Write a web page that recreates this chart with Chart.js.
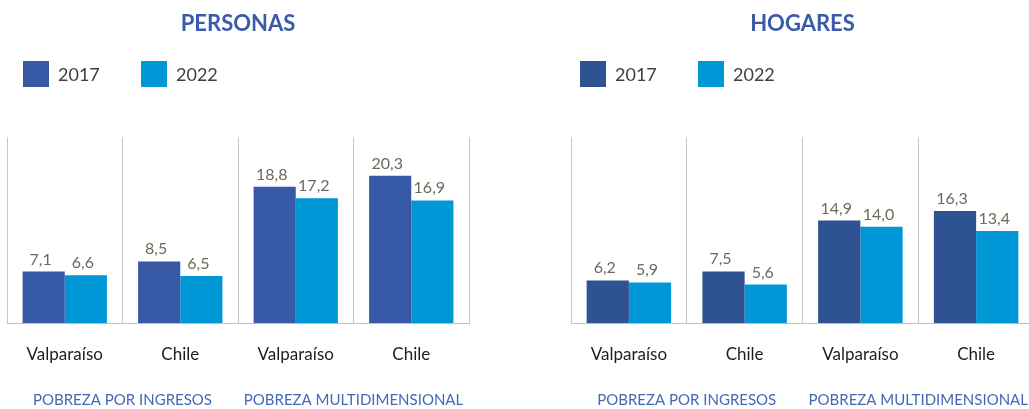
<!DOCTYPE html>
<html>
<head>
<meta charset="utf-8">
<script src="https://cdn.jsdelivr.net/npm/chart.js@4.4.1/dist/chart.umd.min.js"></script>
<style>
  html, body { margin: 0; padding: 0; background: #ffffff; }
  body { width: 1029px; height: 409px; overflow: hidden; position: relative; }
  .wrap { position: absolute; top: 0; height: 409px; }
  #w1 { left: 0; width: 476px; }
  #w2 { left: 564px; width: 477px; }
  canvas { display: block; }
</style>
</head>
<body>
<div class="wrap" id="w1"><canvas id="c1"></canvas></div>
<div class="wrap" id="w2"><canvas id="c2"></canvas></div>
<script>
// ---- data ----
const categories = ['Valparaíso', 'Chile', 'Valparaíso', 'Chile'];
const groupLabels = ['POBREZA POR INGRESOS', 'POBREZA MULTIDIMENSIONAL'];
const seriesNames = ['2017', '2022'];
const personas2017 = [7.1, 8.5, 18.8, 20.3];
const personas2022 = [6.6, 6.5, 17.2, 16.9];
const hogares2017 = [6.2, 7.5, 14.9, 16.3];
const hogares2022 = [5.9, 5.6, 14.0, 13.4];
const chartTitles = ['PERSONAS', 'HOGARES'];

// ---- plugins ----
const valueLabels = {
  id: 'valueLabels',
  afterDatasetsDraw(chart) {
    const ctx = chart.ctx;
    ctx.save();
    ctx.font = '16px Lato, "Open Sans", sans-serif';
    ctx.fillStyle = '#6b6b5b';
    ctx.textAlign = 'center';
    ctx.textBaseline = 'alphabetic';
    chart.data.datasets.forEach((ds, i) => {
      chart.getDatasetMeta(i).data.forEach((bar, j) => {
        const txt = ds.data[j].toFixed(1).replace('.', ',');
        ctx.fillText(txt, bar.x - 3, bar.y - 7);
      });
    });
    ctx.restore();
  }
};

const boxLegend = {
  id: 'boxLegend',
  afterDraw(chart, args, opts) {
    const ctx = chart.ctx;
    ctx.save();
    ctx.font = '18px Lato, "Open Sans", sans-serif';
    ctx.textBaseline = 'middle';
    ctx.textAlign = 'left';
    chart.data.datasets.forEach((ds, i) => {
      const x = chart.chartArea.left + opts.offset + i * opts.step;
      ctx.fillStyle = ds.backgroundColor;
      ctx.fillRect(x, opts.y, opts.box, opts.box);
      ctx.fillStyle = '#3f3f3f';
      ctx.fillText(ds.label, x + opts.box + 9, opts.y + opts.box / 2 + 1);
    });
    ctx.restore();
  }
};

function fixAxis(h) {
  return function (scale) {
    scale.height = h;
    scale.paddingLeft = 0;
    scale.paddingRight = 0;
    scale.paddingTop = 0;
    scale.paddingBottom = 0;
  };
}

function makeChart(id, title, d17, d22, c17, yMax, legendOffset) {
  return new Chart(document.getElementById(id), {
    type: 'bar',
    data: {
      labels: categories,
      datasets: [
        { label: seriesNames[0], data: d17, backgroundColor: c17, categoryPercentage: 0.73, barPercentage: 1.0 },
        { label: seriesNames[1], data: d22, backgroundColor: '#0097d7', categoryPercentage: 0.73, barPercentage: 1.0 }
      ]
    },
    options: {
      responsive: true,
      maintainAspectRatio: false,
      animation: false,
      devicePixelRatio: 1,
      layout: { padding: { left: 7, right: 7, top: 0, bottom: 0 } },
      plugins: {
        legend: { display: false },
        tooltip: { enabled: false },
        title: {
          display: true,
          text: title,
          color: '#3a5ba9',
          font: { family: 'Lato, "Open Sans", sans-serif', size: 22, weight: 'bold' },
          padding: { top: 11, bottom: 100 }
        },
        boxLegend: { offset: legendOffset, step: 118, y: 61, box: 26 }
      },
      scales: {
        x: {
          weight: 0,
          offset: true,
          grid: { display: true, offset: true, color: '#c8c8c8', lineWidth: 1, drawTicks: false },
          border: { display: true, color: '#c0c0c0', width: 1 },
          ticks: {
            color: '#1d1d1b',
            font: { family: 'Lato, "Open Sans", sans-serif', size: 17 },
            padding: 21,
            maxRotation: 0,
            autoSkip: false
          },
          afterFit: fixAxis(41)
        },
        x2: {
          type: 'category',
          labels: groupLabels,
          position: 'bottom',
          weight: 1,
          offset: true,
          grid: { display: false, drawTicks: false },
          border: { display: false },
          ticks: {
            color: '#4468b4',
            font: { family: 'Lato, "Open Sans", sans-serif', size: 15 },
            padding: 27,
            maxRotation: 0,
            autoSkip: false
          },
          afterFit: fixAxis(45)
        },
        y: {
          display: false,
          min: 0,
          max: yMax
        }
      }
    },
    plugins: [valueLabels, boxLegend]
  });
}

makeChart('c1', chartTitles[0], personas2017, personas2022, '#3759a6', 25.6, 16);
makeChart('c2', chartTitles[1], hogares2017, hogares2022, '#2f5292', 27, 9);
</script>
</body>
</html>
